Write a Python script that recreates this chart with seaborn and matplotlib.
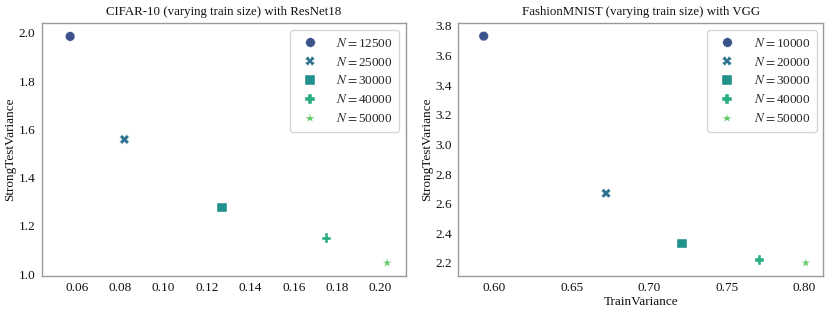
import matplotlib
matplotlib.use("Agg")
import matplotlib.pyplot as plt
import seaborn as sns
import pandas as pd

# CIFAR-10 / ResNet18
cifar_sizes = [12500, 25000, 30000, 40000, 50000]
cifar_train_var = [0.057, 0.082, 0.127, 0.175, 0.203]
cifar_test_var = [1.985, 1.558, 1.276, 1.149, 1.046]

# FashionMNIST / VGG
fmnist_sizes = [10000, 20000, 30000, 40000, 50000]
fmnist_train_var = [0.593, 0.672, 0.721, 0.771, 0.801]
fmnist_test_var = [3.730, 2.670, 2.330, 2.220, 2.200]

markers = ["o", "X", "s", "P", "*"]
colors = sns.color_palette("viridis", 7)[1:6]

sns.set_style("white")
plt.rcParams["font.family"] = ["Liberation Serif", "DejaVu Serif"]
plt.rcParams["mathtext.fontset"] = "stix"
plt.rcParams["font.size"] = 9.5

fig = plt.figure(figsize=(8.31, 3.12), dpi=100)
ax1 = fig.add_axes([0.0502, 0.1154, 0.4384, 0.8096])
ax2 = fig.add_axes([0.5515, 0.1154, 0.4393, 0.8096])


def draw(ax, sizes, xs, ys, title, xlabel):
    df = pd.DataFrame({
        "TrainVariance": xs,
        "StrongTestVariance": ys,
        "N": [r"$N=$" + str(n) for n in sizes],
    })
    sns.scatterplot(data=df, x="TrainVariance", y="StrongTestVariance",
                    hue="N", style="N", markers=markers, palette=colors,
                    s=48, linewidth=0.3, ax=ax)
    ax.set_title(title, fontsize=9.3, color="#111111", pad=6)
    ax.set_xlabel(xlabel, fontsize=9.5, color="#111111", labelpad=1)
    ax.set_ylabel("StrongTestVariance", fontsize=9.5, color="#111111", labelpad=2)
    for sp in ax.spines.values():
        sp.set_color("#999999")
        sp.set_linewidth(1.0)
    ax.tick_params(axis="both", which="major", length=2.5, width=0.8,
                   color="#999999", labelsize=9.5, labelcolor="#111111", pad=2)
    leg = ax.legend(loc="upper right", fontsize=9.5, markerscale=1.0,
                    borderpad=0.5, handletextpad=1.0, labelspacing=0.45)
    leg.get_frame().set_edgecolor("#cccccc")


draw(ax1, cifar_sizes, cifar_train_var, cifar_test_var,
     "CIFAR-10 (varying train size) with ResNet18", "")
ax1.set_xlim(0.0439, 0.2117)
ax1.set_ylim(0.992, 2.039)
ax1.set_xticks([0.06, 0.08, 0.10, 0.12, 0.14, 0.16, 0.18, 0.20])

draw(ax2, fmnist_sizes, fmnist_train_var, fmnist_test_var,
     "FashionMNIST (varying train size) with VGG", "TrainVariance")
ax2.set_xlim(0.5766, 0.8123)
ax2.set_ylim(2.112, 3.816)
ax2.set_xticks([0.60, 0.65, 0.70, 0.75, 0.80])
ax2.set_yticks([2.2, 2.4, 2.6, 2.8, 3.0, 3.2, 3.4, 3.6, 3.8])

fig.savefig("out.png", dpi=100)
